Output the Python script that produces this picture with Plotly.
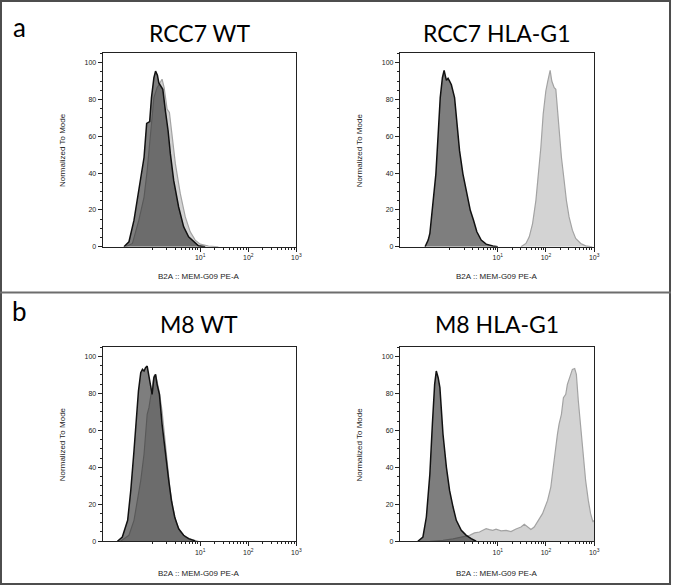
import plotly.graph_objects as go

# ---------------- data (fluorescence intensity, % of mode) ----------------
rcc7_wt_dark_x = [0.26, 0.33, 0.42, 0.53, 0.61, 0.68, 0.77, 0.89, 0.97, 1.09, 1.18, 1.29, 1.38,
                  1.52, 1.67, 1.89, 2.15, 2.40, 2.81, 3.56, 4.53, 5.74, 7.28, 9.2, 12.7]
rcc7_wt_dark_y = [0, 2.7, 14.4, 30.6, 40.5, 48.6, 67, 68, 81, 91.8, 95.4, 93.2, 89,
                  87.3, 85.5, 73.8, 63, 50.4, 36, 21.6, 10.8, 5.4, 2.7, 0.5, 0]
rcc7_wt_light_x = [0.28, 0.39, 0.53, 0.68, 0.79, 0.93, 1.09, 1.27, 1.42, 1.61, 1.78, 2.05, 2.29,
                   2.60, 3.05, 3.86, 4.90, 6.21, 7.87, 10, 14.9, 23.9]
rcc7_wt_light_y = [0, 1.8, 14.4, 27, 41.4, 63, 81, 86.4, 89, 91, 86.4, 74.7, 72.9,
                   61.2, 45, 28.8, 16.2, 8.1, 3.6, 1.4, 0.4, 0]

rcc7_g1_dark_x = [0.31, 0.36, 0.39, 0.45, 0.52, 0.58, 0.64, 0.71, 0.77, 0.86, 0.93, 1.0, 1.09,
                  1.27, 1.42, 1.61, 1.89, 2.22, 2.40, 2.69, 3.14, 3.68, 4.53, 5.74, 7.87, 10]
rcc7_g1_dark_y = [0, 3.6, 7.2, 21.6, 39.6, 61.2, 81, 91.8, 95.8, 90.4, 91.5, 90, 88,
                  81, 66.6, 52.2, 39.6, 30.6, 26.1, 19.8, 14.4, 8.1, 3.6, 1.4, 0.4, 0]
rcc7_g1_light_x = [30.3, 38.4, 45.0, 52.7, 61.8, 70.1, 78.3, 87.5, 99.3, 109, 122, 132, 148,
                   160, 173, 187, 209, 238, 265, 301, 353, 413, 525, 665, 912]
rcc7_g1_light_y = [0, 1.8, 5.4, 12.6, 25.2, 39.6, 54, 72, 84.6, 90, 95.8, 90, 86.4,
                   85.5, 75.6, 61.2, 48.6, 36, 25.2, 16.2, 9, 4.5, 1.8, 0.5, 0]

m8_wt_dark_x = [0.19, 0.24, 0.31, 0.36, 0.42, 0.47, 0.52, 0.58, 0.63, 0.68, 0.73, 0.79, 0.86,
                0.93, 1.0, 1.09, 1.18, 1.27, 1.42, 1.61, 1.89, 2.22, 2.52, 2.95, 3.56, 4.53,
                5.74, 7.87]
m8_wt_dark_y = [0, 2.3, 11.3, 27.5, 49, 67, 81.3, 91.2, 93, 92.1, 93.9, 94.8, 90,
                84.9, 79.5, 88.5, 90.3, 84.9, 79.5, 63.4, 47.2, 32.8, 22.1, 13.1, 6.8, 3.2,
                1.4, 0.2]
m8_wt_light_x = [0.22, 0.33, 0.42, 0.49, 0.58, 0.68, 0.73, 0.79, 0.86, 0.97, 1.09, 1.18, 1.29,
                 1.42, 1.61, 1.81, 2.05, 2.33, 2.69, 3.14, 3.86, 4.90, 6.73, 9.2]
m8_wt_light_y = [0, 3.2, 11.3, 22.1, 32.8, 47.2, 56.2, 68.7, 72.3, 81.3, 89.4, 90.3, 84.9,
                 80.4, 70.5, 58, 41.8, 29.3, 18.5, 10.4, 5, 2.3, 0.9, 0]

m8_g1_dark_x = [0.22, 0.28, 0.33, 0.39, 0.44, 0.49, 0.53, 0.58, 0.63, 0.68, 0.73, 0.86, 1.0,
                1.18, 1.38, 1.75, 2.22, 2.81, 3.56]
m8_g1_dark_y = [0, 2.3, 13.1, 36.4, 63.4, 84.9, 92.1, 88.5, 83.1, 72.3, 58, 40, 27.5,
                18.5, 11.3, 5.9, 3.2, 1.4, 0]
m8_g1_light_x = [0.39, 0.73, 1.18, 1.89, 2.60, 3.30, 4.18, 4.90, 5.74, 6.73, 7.87, 9.2, 11.7,
                 14.9, 18.8, 23.9, 30.3, 35.5, 41.6, 48.7, 57.0, 66.8, 84.7, 108, 126, 136,
                 155, 173, 187, 209, 230, 257, 278, 311, 353, 394, 427, 469, 525, 586, 665,
                 755, 843, 942, 1000]
m8_g1_light_y = [0, 0.5, 1.3, 2.3, 3.2, 4.5, 5, 5.9, 6.8, 6.3, 5.9, 6.5, 5.6,
                 5.9, 5.2, 6.6, 7.7, 9.2, 7.7, 6.3, 7.7, 10.4, 14.9, 22.1, 29.3, 36.4,
                 49, 58, 63.4, 68.7, 77.7, 79.5, 84.9, 88.5, 93, 93.5, 90.3, 75.9, 61.6, 45.4, 32.8,
                 22.1, 14.9, 10.4, 11.3]

panel_titles = ["RCC7 WT", "RCC7 HLA-G1", "M8 WT", "M8 HLA-G1"]
panel_letters = ["a", "b"]
y_tick_vals = [0, 20, 40, 60, 80, 100]
x_tick_vals = [10, 100, 1000]
x_tick_text = ["10<sup>1</sup>", "10<sup>2</sup>", "10<sup>3</sup>"]
x_minor_vals = [1, 2, 3, 4, 5, 6, 7, 8, 9, 20, 30, 40, 50, 60, 70, 80, 90,
                200, 300, 400, 500, 600, 700, 800, 900]
x_axis_label = "B2A :: MEM-G09 PE-A"
y_axis_label = "Normalized To Mode"

panels = [
    (rcc7_wt_dark_x, rcc7_wt_dark_y, rcc7_wt_light_x, rcc7_wt_light_y),
    (rcc7_g1_dark_x, rcc7_g1_dark_y, rcc7_g1_light_x, rcc7_g1_light_y),
    (m8_wt_dark_x, m8_wt_dark_y, m8_wt_light_x, m8_wt_light_y),
    (m8_g1_dark_x, m8_g1_dark_y, m8_g1_light_x, m8_g1_light_y),
]

# ---------------- layout geometry (pixels) ----------------
W, H = 677, 588
x_dom_px = [(103.5, 299.0), (403.5, 599.5), (103.5, 299.0), (403.5, 599.5)]
y_dom_px = [(53.7, 248.0), (53.7, 248.0), (349.0, 544.0), (349.0, 544.0)]

def fx(px):
    return px / W

def fy(py):
    return 1 - py / H

fig = go.Figure()
layout_axes = {}
annotations = []
tick_font = dict(family="Liberation Sans, Arial", size=7, color="#222")

for i, (dx, dy, lx, ly) in enumerate(panels):
    n = "" if i == 0 else str(i + 1)
    xa, ya = "x" + n, "y" + n
    fig.add_trace(go.Scatter(x=lx, y=ly, xaxis=xa, yaxis=ya, mode="lines",
                             fill="tozeroy", fillcolor="#d3d3d3",
                             line=dict(color="#a3a3a3", width=1.2), hoverinfo="skip"))
    fig.add_trace(go.Scatter(x=dx, y=dy, xaxis=xa, yaxis=ya, mode="lines",
                             fill="tozeroy", fillcolor="rgba(40,40,40,0.6)",
                             line=dict(color="#111", width=1.5), hoverinfo="skip"))
    x0, x1 = x_dom_px[i]
    y0, y1 = y_dom_px[i]
    layout_axes["xaxis" + n] = dict(
        domain=[fx(x0), fx(x1)], anchor=ya, type="log", range=[-1.03, 3.0],
        showline=True, linecolor="#222", linewidth=1, mirror=True,
        tickvals=x_tick_vals, ticktext=x_tick_text, ticks="outside", ticklen=4,
        tickcolor="#222", tickfont=tick_font, showgrid=False, zeroline=False,
        minor=dict(tickvals=x_minor_vals, ticks="outside", ticklen=2, tickcolor="#222",
                   showgrid=False),
    )
    layout_axes["yaxis" + n] = dict(
        domain=[fy(y1), fy(y0)], anchor=xa, range=[0, 105],
        showline=True, linecolor="#222", linewidth=1, mirror=True,
        tickvals=y_tick_vals, ticks="outside", ticklen=4, tickcolor="#222",
        tickfont=tick_font, showgrid=False, zeroline=False,
        minor=dict(dtick=5, ticks="outside", ticklen=2, tickcolor="#222", showgrid=False),
    )
    cx = (x0 + x1) / 2
    # title
    annotations.append(dict(text=panel_titles[i], xref="paper", yref="paper",
                            x=fx(cx), y=fy(33 if i < 2 else 326), xanchor="center",
                            yanchor="middle", showarrow=False,
                            font=dict(family="Lato, Carlito, sans-serif", size=23, color="#000")))
    # x label
    annotations.append(dict(text=x_axis_label, xref="paper", yref="paper",
                            x=fx(cx), y=fy(278 if i < 2 else 576), xanchor="center",
                            yanchor="middle", showarrow=False,
                            font=dict(family="Liberation Sans, Arial", size=8, color="#222")))
    # y label
    annotations.append(dict(text=y_axis_label, xref="paper", yref="paper",
                            x=fx(x0 - 41), y=fy((y0 + y1) / 2), xanchor="center",
                            yanchor="middle", showarrow=False, textangle=-90,
                            font=dict(family="Liberation Sans, Arial", size=8, color="#222")))

for j, letter in enumerate(panel_letters):
    annotations.append(dict(text=letter, xref="paper", yref="paper",
                            x=fx(19.5), y=fy(27 if j == 0 else 313), xanchor="center",
                            yanchor="middle", showarrow=False,
                            font=dict(family="Lato, Carlito, sans-serif", size=26, color="#000")))

shapes = [
    dict(type="rect", xref="paper", yref="paper", x0=fx(1), x1=fx(676), y0=fy(587), y1=fy(1),
         line=dict(color="#4d4d4d", width=2)),
    dict(type="line", xref="paper", yref="paper", x0=0, x1=1, y0=fy(294), y1=fy(294),
         line=dict(color="#6d6d6d", width=2)),
]

fig.update_layout(width=W, height=H, margin=dict(l=0, r=0, t=0, b=0),
                  paper_bgcolor="white", plot_bgcolor="white", showlegend=False,
                  annotations=annotations, shapes=shapes, **layout_axes)

fig.write_html("out.html", config={"displayModeBar": False, "staticPlot": True},
               post_script="document.body.style.margin='0';document.body.style.overflow='hidden';")
